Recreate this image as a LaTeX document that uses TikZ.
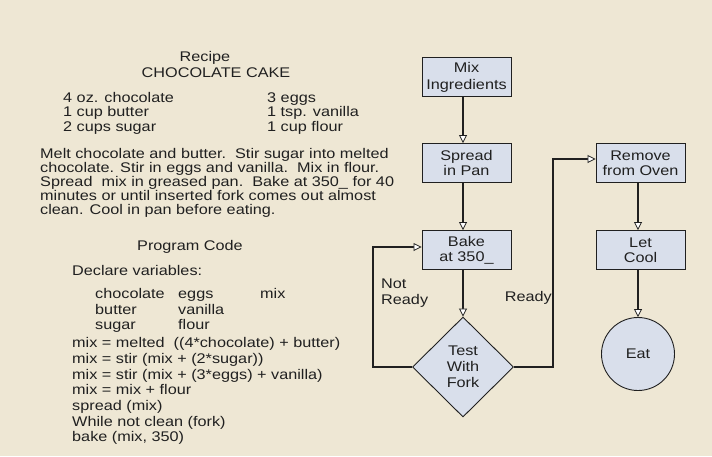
\documentclass[tikz,border=0pt]{standalone}
\usepackage{fontspec}
\setmainfont{Liberation Sans}[FakeStretch=1.16]
\usetikzlibrary{arrows.meta,shapes.geometric}
\definecolor{stepfill}{RGB}{217,223,235}
\definecolor{inkline}{RGB}{32,32,32}
\definecolor{sheet}{RGB}{238,231,212}
\begin{document}
\begin{tikzpicture}[x=1pt,y=-1pt,
  every node/.style={text=inkline},
  txt/.style={inner sep=0pt,anchor=base west,font=\fontsize{14}{15}\selectfont},
  ctxt/.style={inner sep=0pt,anchor=base,font=\fontsize{14}{15}\selectfont},
  stepbox/.style={draw=inkline,line width=0.9pt,fill=stepfill,rectangle,
    minimum width=89pt,minimum height=39pt,inner sep=0pt,align=center,
    font=\fontsize{14}{15}\selectfont},
  decide/.style={draw=inkline,line width=0.9pt,fill=stepfill,diamond,
    minimum width=101pt,minimum height=100pt,inner sep=0pt,align=center,
    font=\fontsize{14}{16}\selectfont},
  endcircle/.style={draw=inkline,line width=0.9pt,fill=stepfill,circle,
    minimum size=73pt,inner sep=0pt,font=\fontsize{14}{15}\selectfont},
  flow/.style={draw=inkline,line width=1.1pt,
    -{Triangle[length=8pt,width=8pt,fill=white,line width=0.8pt]}},
  lbl/.style={inner sep=0pt,align=left,font=\fontsize{14}{16}\selectfont}
]
% paper, laid in two halves
\fill[sheet] (0,0) rectangle (357,456);
\fill[sheet] (356,0) rectangle (712,456);
\useasboundingbox (0,0) rectangle (712,456);

% ---- recipe text ----
\node[ctxt] (title1) at (205,61) {Recipe};
\node[ctxt] (title2) at (216,77) {CHOCOLATE CAKE};

\node[txt] (ing1) at (63,102) {4 oz. chocolate};
\node[txt] (ing2) at (63,116) {1 cup butter};
\node[txt] (ing3) at (63,131) {2 cups sugar};
\node[txt] (ing4) at (267,102) {3 eggs};
\node[txt] (ing5) at (267,116) {1 tsp. vanilla};
\node[txt] (ing6) at (267,131) {1 cup flour};

\node[txt] (par1) at (40,158) {Melt chocolate and butter.\ \ Stir sugar into melted};
\node[txt] (par2) at (40,172) {chocolate. Stir in eggs and vanilla.\ \ Mix in flour.};
\node[txt] (par3) at (40,186) {Spread\ \ mix in greased pan.\ \ Bake at 350\_ for 40};
\node[txt] (par4) at (40,200) {minutes or until inserted fork comes out almost};
\node[txt] (par5) at (40,214) {clean. Cool in pan before eating.};

% ---- program code ----
\node[ctxt] (code0) at (190,250) {Program Code};
\node[txt] (decl) at (72,275) {Declare variables:};
\node[txt] (v1) at (95,298) {chocolate};
\node[txt] (v2) at (178,298) {eggs};
\node[txt] (v3) at (260,298) {mix};
\node[txt] (v4) at (95,314) {butter};
\node[txt] (v5) at (178,314) {vanilla};
\node[txt] (v6) at (95,329) {sugar};
\node[txt] (v7) at (178,329) {flour};

\node[txt] (c1) at (72,347) {mix = melted\ \ ((4*chocolate) + butter)};
\node[txt] (c2) at (72,363) {mix = stir (mix + (2*sugar))};
\node[txt] (c3) at (72,379) {mix = stir (mix + (3*eggs) + vanilla)};
\node[txt] (c4) at (72,394) {mix = mix + flour};
\node[txt] (c5) at (72,410) {spread (mix)};
\node[txt] (c6) at (72,426) {While not clean (fork)};
\node[txt] (c7) at (72,441) {bake (mix, 350)};

% ---- flowchart ----
\node[stepbox] (mix)    at (466.5,77)  {Mix\\[2pt]Ingredients};
\node[stepbox] (spread) at (466.5,163) {Spread\\in Pan};
\node[stepbox] (bake)   at (466.5,250) {Bake\\at 350\_};
\node[decide]  (test)   at (463,367)   {Test\\With\\Fork};
\node[stepbox] (remove) at (640.5,163) {Remove\\from Oven};
\node[stepbox] (cool)   at (640.5,250) {Let\\Cool};
\node[endcircle] (eat)  at (638,354)   {Eat};

\draw[flow] (mix.south -| test.north) -- (spread.north -| test.north);
\draw[flow] (spread.south -| test.north) -- (bake.north -| test.north);
\draw[flow] (bake.south -| test.north) -- (test.north);
\draw[flow] (remove.south -| eat.north) -- (cool.north -| eat.north);
\draw[flow] (cool.south -| eat.north) -- (eat.north);

% loop back while the fork is not clean
\coordinate (loopL) at (373,247);
\draw[flow] (test.west) -| (loopL) -- (loopL -| bake.west);
% done: on to the oven
\coordinate (readyR) at (553,159);
\draw[flow] (test.east) -| (readyR) -- (readyR -| remove.west);

\node[lbl,anchor=north west] (notready) at (381,279) {Not\\Ready};
\node[lbl,anchor=base east] (ready) at (552,301) {Ready};
\end{tikzpicture}
\end{document}
